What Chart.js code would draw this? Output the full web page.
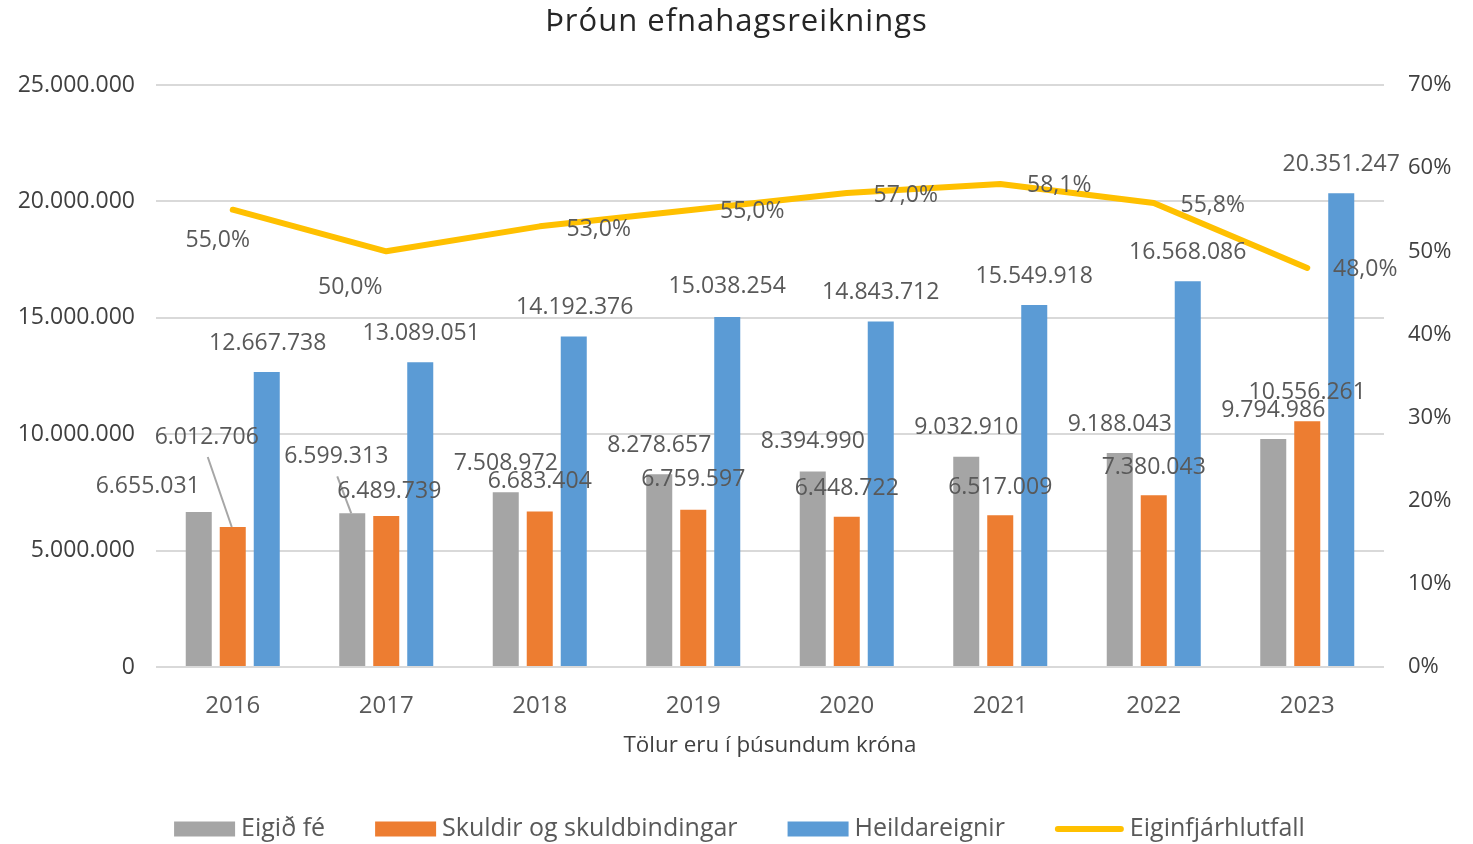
<!DOCTYPE html>
<html><head><meta charset="utf-8">
<script src="https://cdn.jsdelivr.net/npm/chart.js@4.4.1/dist/chart.umd.min.js"></script>
<style>html,body{margin:0;padding:0;background:#fff;overflow:hidden}#wrap{width:1473px;height:844px}</style>
</head><body><div id="wrap"><canvas id="c" width="1473" height="844"></canvas></div>
<script>
const categories = ['2016','2017','2018','2019','2020','2021','2022','2023'];
const eigidFe = [6655031, 6599313, 7508972, 8278657, 8394990, 9032910, 9188043, 9794986];
const skuldir = [6012706, 6489739, 6683404, 6759597, 6448722, 6517009, 7380043, 10556261];
const heildareignir = [12667738, 13089051, 14192376, 15038254, 14843712, 15549918, 16568086, 20351247];
const eiginfjarhlutfall = [55.0, 50.0, 53.0, 55.0, 57.0, 58.1, 55.8, 48.0];
const seriesNames = ['Eigið fé', 'Skuldir og skuldbindingar', 'Heildareignir', 'Eiginfjárhlutfall'];
const chartTitle = 'Þróun efnahagsreiknings';
const xTitle = 'Tölur eru í þúsundum króna';
const leftMax = 25000000, leftStep = 5000000;
const rightMax = 70, rightStep = 10;

const fmtNum = v => Math.round(v).toString().replace(/\B(?=(\d{3})+(?!\d))/g, '.');
const fmtPct = v => v.toFixed(1).replace('.', ',') + '%';

const FONT = "'Open Sans', 'DejaVu Sans', sans-serif";
const colors = ['#A5A5A5', '#ED7D31', '#5B9BD5', '#FFC000'];

// label offsets (style only): [dx, dy] from element position
const labelOffsets = [
  [[-51,-26],[-16,-57],[0,-29],[0,-29],[0,-30],[0,-29],[0,-29],[0,-29]],
  [[-26,-90],[3,-24],[0,-30],[0,-30],[0,-28],[0,-28],[0,-28],[0,-29]],
  [[1,-29],[1,-29],[1,-29],[0,-30],[0,-29],[0,-29],[0,-29],[0,-29]],
  [[-15,31],[-36,36],[59,3],[59,2],[59,2],[59,2],[59,2],[58,2]]
];
const leaders = [[0,1],[1,0]];

const decorPlugin = {
  id: 'decor',
  afterDatasetsDraw(chart) {
    const ctx = chart.ctx;
    ctx.save();
    ctx.font = `23px ${FONT}`;
    ctx.fillStyle = '#595959';
    ctx.textAlign = 'center';
    ctx.textBaseline = 'middle';
    chart.data.datasets.forEach((ds, di) => {
      const meta = chart.getDatasetMeta(di);
      meta.data.forEach((el, i) => {
        const off = labelOffsets[di][i];
        const tx = el.x + off[0], ty = el.y + off[1];
        const txt = di === 3 ? fmtPct(ds.data[i]) : fmtNum(ds.data[i]);
        if (leaders.some(l => l[0] === di && l[1] === i)) {
          ctx.strokeStyle = '#A6A6A6';
          ctx.lineWidth = 2;
          ctx.beginPath();
          ctx.moveTo(tx + 1, ty + 20);
          ctx.lineTo(el.x - 1, el.y);
          ctx.stroke();
        }
        ctx.fillText(txt, tx, ty);
      });
    });
    ctx.restore();
  },
  afterDraw(chart) {
    const ctx = chart.ctx;
    const W = chart.width;
    const area = chart.chartArea;
    ctx.save();
    ctx.textBaseline = 'middle';
    // title
    ctx.font = `31px ${FONT}`;
    ctx.letterSpacing = '1px';
    ctx.fillStyle = '#262626';
    ctx.textAlign = 'center';
    ctx.fillText(chartTitle, W / 2, 22);
    ctx.letterSpacing = '0px';
    // x axis title
    ctx.font = `22.4px ${FONT}`;
    ctx.fillStyle = '#404040';
    ctx.fillText(xTitle, (area.left + area.right) / 2, 746);
    // legend
    ctx.font = `25px ${FONT}`;
    const boxW = 61, lineW = 69, gapT = 6, gapI = 50;
    const widths = seriesNames.map((n, i) => (i === 3 ? lineW : boxW) + gapT + ctx.measureText(n).width);
    const total = widths.reduce((a, b) => a + b, 0) + gapI * (widths.length - 1);
    let x = W / 2 + 3 - total / 2;
    const ly = 829;
    ctx.textAlign = 'left';
    seriesNames.forEach((n, i) => {
      if (i === 3) {
        ctx.strokeStyle = colors[3];
        ctx.lineWidth = 6;
        ctx.lineCap = 'round';
        ctx.beginPath();
        ctx.moveTo(x + 3, ly);
        ctx.lineTo(x + lineW - 3, ly);
        ctx.stroke();
        x += lineW;
      } else {
        ctx.fillStyle = colors[i];
        ctx.fillRect(x, ly - 7.5, boxW, 15);
        x += boxW;
      }
      x += gapT;
      ctx.fillStyle = '#595959';
      ctx.fillText(n, x, ly);
      x += ctx.measureText(n).width + gapI;
    });
    ctx.restore();
  }
};

const barCommon = { categoryPercentage: 0.6645, barPercentage: 0.765, yAxisID: 'y', order: 1 };

new Chart(document.getElementById('c'), {
  type: 'bar',
  data: {
    labels: categories,
    datasets: [
      Object.assign({ label: seriesNames[0], data: eigidFe, backgroundColor: colors[0] }, barCommon),
      Object.assign({ label: seriesNames[1], data: skuldir, backgroundColor: colors[1] }, barCommon),
      Object.assign({ label: seriesNames[2], data: heildareignir, backgroundColor: colors[2] }, barCommon),
      { type: 'line', label: seriesNames[3], data: eiginfjarhlutfall, yAxisID: 'y1', borderColor: colors[3],
        backgroundColor: colors[3], borderWidth: 6, pointRadius: 0, tension: 0, order: 0,
        borderJoinStyle: 'round', borderCapStyle: 'round', fill: false }
    ]
  },
  options: {
    responsive: false,
    animation: false,
    devicePixelRatio: 1,
    layout: { padding: { top: 85, left: 0, right: 0, bottom: 0 } },
    plugins: { legend: { display: false }, title: { display: false }, tooltip: { enabled: false } },
    scales: {
      x: {
        grid: { display: false }, border: { display: false },
        ticks: { font: { family: FONT, size: 24 }, color: '#595959', padding: 17 },
        afterFit(s) { s.height = 844 - 667; }
      },
      y: {
        position: 'left', min: 0, max: leftMax,
        ticks: { stepSize: leftStep, callback: v => fmtNum(v), font: { family: FONT, size: 23 }, color: '#404040', padding: 21 },
        grid: { color: '#D9D9D9', lineWidth: 2, drawTicks: false },
        border: { display: false },
        afterFit(s) { s.width = 156; }
      },
      y1: {
        position: 'right', min: 0, max: rightMax,
        ticks: { stepSize: rightStep, callback: v => v + '%', font: { family: FONT, size: 22 }, color: '#404040', padding: 24 },
        grid: { display: false, drawTicks: false },
        border: { display: false },
        afterFit(s) { s.width = 1473 - 1384; }
      }
    }
  },
  plugins: [decorPlugin]
});
</script></body></html>
